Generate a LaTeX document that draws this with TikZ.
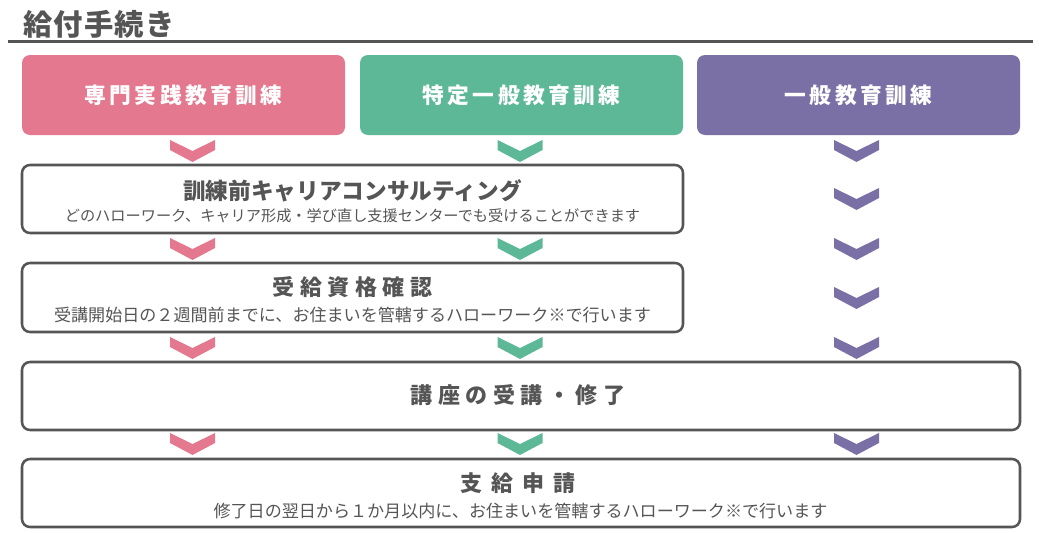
\documentclass[tikz,border=0pt]{standalone}
\usepackage{fontspec}
\setmainfont{Noto Sans CJK JP}
\newfontfamily\jptop[LetterSpace=16]{Noto Sans CJK JP}
\newfontfamily\jpwide[LetterSpace=25]{Noto Sans CJK JP}
\newfontfamily\jpwider[LetterSpace=40]{Noto Sans CJK JP}
\newfontfamily\jphead[LetterSpace=4]{Noto Sans CJK JP}
\usepackage{xcolor}
\definecolor{ColPink}{RGB}{227,120,142}
\definecolor{ColGreen}{RGB}{93,184,152}
\definecolor{ColPurple}{RGB}{123,112,166}
\definecolor{ColGray}{RGB}{85,85,85}
\tikzstyle{TopBox}=[rounded corners=6pt,minimum width=242.25pt,minimum height=60pt,
text=white,font=\jptop\fontsize{16.3pt}{16.3pt}\selectfont\bfseries,inner sep=0pt]
\tikzstyle{StepBox}=[draw=ColGray,line width=1.9pt,rounded corners=6pt,fill=white,inner sep=0pt]
\tikzstyle{StepTitle}=[text=ColGray,inner sep=0pt]
\tikzstyle{StepNote}=[text=ColGray,inner sep=0pt]
\newcommand{\Chevron}[3]{\fill[#3,shift={(#1,#2)}] (-22.5,0)--(0,11)--(22.5,0)--(22.5,10)--(0,22)--(-22.5,10)--cycle;}

\begin{document}
\begin{tikzpicture}[x=0.75pt,y=-0.75pt]
        \useasboundingbox (0,0) rectangle (1039,532);
        % heading
        \node[StepTitle,anchor=west,font=\jphead\fontsize{22pt}{22pt}\selectfont\bfseries](head)at(23,24){給付手続き};
        \coordinate (ruleL) at (8,41.5);
        \coordinate (ruleR) at (1033,41.5);
        \draw[ColGray,line width=2.2pt](ruleL)--(ruleR);
        % courses
        \node[TopBox,fill=ColPink](senmon)at(183.5,95){専門実践教育訓練};
        \node[TopBox,fill=ColGreen](tokutei)at(521.5,95){特定一般教育訓練};
        \node[TopBox,fill=ColPurple](ippan)at(858.5,95){一般教育訓練};
        % steps
        \node[StepBox,minimum width=495.75pt,minimum height=51pt](cons)at(352.5,199){};
        \node[StepBox,minimum width=495.75pt,minimum height=51.75pt](shikaku)at(352.5,297.5){};
        \node[StepBox,minimum width=748.5pt,minimum height=51pt](koza)at(521,396){};
        \node[StepBox,minimum width=748.5pt,minimum height=51pt](shikyu)at(521,493){};
        \node[StepTitle,font=\fontsize{17pt}{17pt}\selectfont\bfseries](consT)at(352.5,191){訓練前キャリアコンサルティング};
        \node[StepNote,font=\fontsize{11.4pt}{11.4pt}\selectfont](consN)at(352.5,216){どのハローワーク、キャリア形成・学び直し支援センターでも受けることができます};
        \node[StepTitle,font=\jpwide\fontsize{16.5pt}{16.5pt}\selectfont\bfseries](shikakuT)at(352.5,287){受給資格確認};
        \node[StepNote,font=\fontsize{12.8pt}{12.8pt}\selectfont](shikakuN)at(352.5,314.5){受講開始日の２週間前までに、お住まいを管轄するハローワーク※で行います};
        \node[StepTitle,font=\jpwide\fontsize{16.5pt}{16.5pt}\selectfont\bfseries](kozaT)at(518,395){講座の受講・修了};
        \node[StepTitle,font=\jpwider\fontsize{16.5pt}{16.5pt}\selectfont\bfseries](shikyuT)at(518,483){支給申請};
        \node[StepNote,font=\fontsize{12.8pt}{12.8pt}\selectfont](shikyuN)at(520.5,510.5){修了日の翌日から１か月以内に、お住まいを管轄するハローワーク※で行います};
        % chevrons
        \foreach \y in {140,238,337,433}{
            \Chevron{192.5}{\y}{ColPink}
            \Chevron{520}{\y}{ColGreen}
        }
        \foreach \y in {140,188,238,287,337,433}{
            \Chevron{856.5}{\y}{ColPurple}
        }
    \end{tikzpicture}
\end{document}
